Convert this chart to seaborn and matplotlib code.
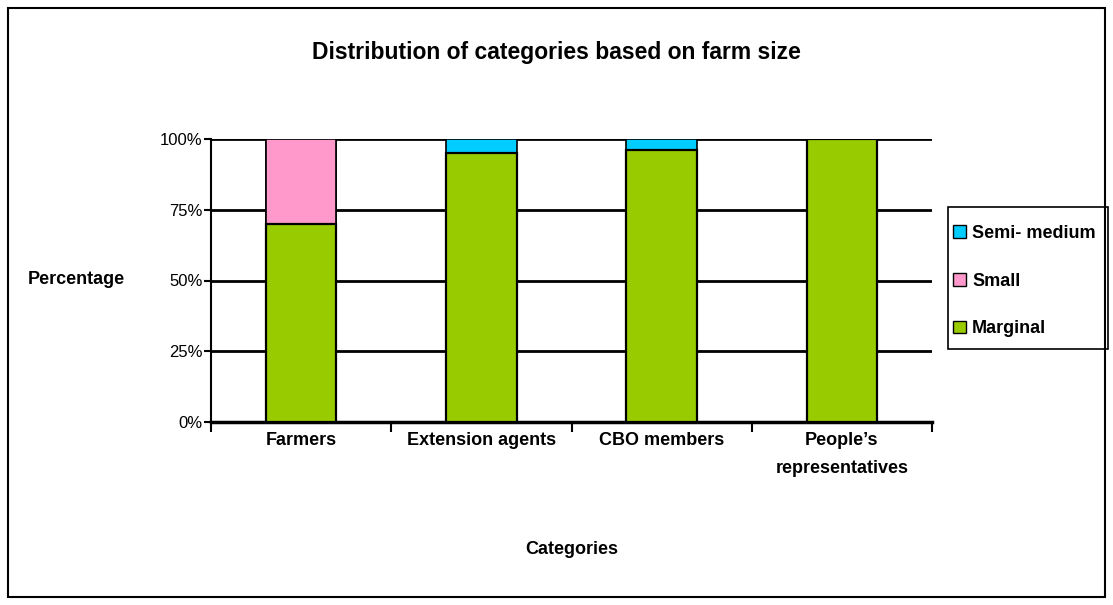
import matplotlib
matplotlib.use("Agg")
import matplotlib.pyplot as plt
from matplotlib.patches import Patch, Rectangle
from matplotlib.ticker import FixedLocator, PercentFormatter
import seaborn as sns
import pandas as pd

categories = ["Farmers", "Extension agents", "CBO members", "People\u2019s\nrepresentatives"]
marginal = [70, 95, 96, 100]
small = [30, 0, 0, 0]
semi_medium = [0, 5, 4, 0]
y_ticks = [0, 25, 50, 75, 100]

col_marginal = "#99CC00"
col_small = "#FF99CC"
col_semi = "#00CCFF"

sns.set_theme(style="white")
plt.rcParams["font.family"] = ["Liberation Sans", "DejaVu Sans"]
plt.rcParams["text.color"] = "black"
plt.rcParams["xtick.color"] = "black"
plt.rcParams["ytick.color"] = "black"

df = pd.DataFrame({
    "Category": categories,
    "Marginal": marginal,
    "Small": small,
    "Semi-medium": semi_medium,
})
df["top_small"] = df["Marginal"] + df["Small"]
df["top_semi"] = df["top_small"] + df["Semi-medium"]

fig = plt.figure(figsize=(11.13, 6.05), dpi=100)
ax = fig.add_axes([211 / 1113, 1 - 422 / 605, (932 - 211) / 1113, (422 - 139) / 605])

for t in y_ticks[1:]:
    ax.axhline(t, color="black", lw=2, zorder=0)

bw = 0.39
sns.barplot(data=df, x="Category", y="top_semi", color=col_semi, width=bw,
            edgecolor="black", linewidth=1.2, saturation=1, ax=ax, zorder=2)
sns.barplot(data=df, x="Category", y="top_small", color=col_small, width=bw,
            edgecolor="black", linewidth=1.2, saturation=1, ax=ax, zorder=3)
sns.barplot(data=df, x="Category", y="Marginal", color=col_marginal, width=bw,
            edgecolor="black", linewidth=1.6, saturation=1, ax=ax, zorder=4)

ax.set_xlim(-0.5, 3.5)
ax.set_ylim(0, 100)
ax.yaxis.set_major_locator(FixedLocator(y_ticks))
ax.yaxis.set_major_formatter(PercentFormatter(decimals=0))
ax.xaxis.set_minor_locator(FixedLocator([-0.5, 0.5, 1.5, 2.5, 3.5]))

for s in ["top", "right"]:
    ax.spines[s].set_visible(False)
ax.spines["left"].set_color("black")
ax.spines["left"].set_linewidth(1.5)
ax.spines["bottom"].set_color("black")
ax.spines["bottom"].set_linewidth(2.5)

ax.tick_params(axis="y", which="major", direction="out", length=5, width=1.5,
               color="black", labelsize=12, pad=1, left=True, labelcolor="black")
ax.tick_params(axis="x", which="major", length=0, labelsize=13, pad=7, labelcolor="black")
ax.tick_params(axis="x", which="minor", direction="out", length=7, width=1.5,
               color="black", bottom=True)
for lbl in ax.get_xticklabels():
    lbl.set_fontweight("bold")
    lbl.set_linespacing(1.9)

ax.set_xlabel("")
ax.set_ylabel("")
fig.text(556 / 1113, 1 - 53 / 605, "Distribution of categories based on farm size",
         ha="center", va="center", fontsize=16.5, fontweight="bold")
fig.text(76 / 1113, 1 - 280 / 605, "Percentage", ha="center", va="center",
         fontsize=13, fontweight="bold")
fig.text(572 / 1113, 1 - 550 / 605, "Categories", ha="center", va="center",
         fontsize=13, fontweight="bold")

handles = [Patch(facecolor=col_semi, edgecolor="black", label="Semi- medium"),
           Patch(facecolor=col_small, edgecolor="black", label="Small"),
           Patch(facecolor=col_marginal, edgecolor="black", label="Marginal")]
leg = fig.legend(handles=handles, loc="center left",
                 bbox_to_anchor=(953 / 1113, 1 - 281 / 605),
                 frameon=False,
                 prop={"size": 13, "weight": "bold"},
                 handlelength=0.7, handleheight=0.7, handletextpad=0.35,
                 labelspacing=1.7, borderpad=0.0, borderaxespad=0)

# legend frame
fig.patches.append(Rectangle((948 / 1113, 1 - 349 / 605), 160 / 1113, 142 / 605,
                             transform=fig.transFigure, fill=False,
                             edgecolor="black", linewidth=1.2))
# outer border
fig.patches.append(Rectangle((8 / 1113, 8 / 605), 1 - 16 / 1113, 1 - 16 / 605,
                             transform=fig.transFigure, fill=False,
                             edgecolor="black", linewidth=1.5))

fig.savefig("out.png", dpi=100, facecolor="white")
